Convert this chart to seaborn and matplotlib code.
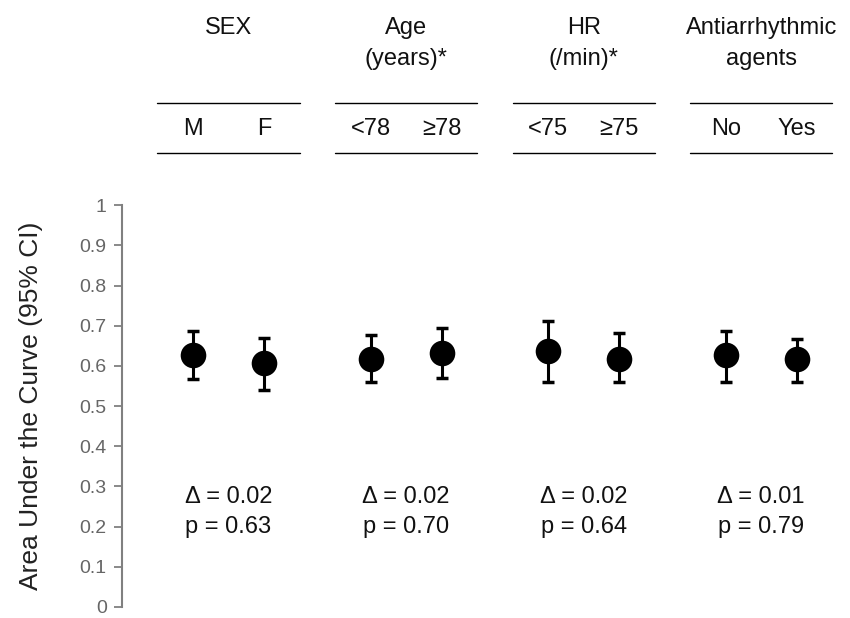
import numpy as np
import pandas as pd
import matplotlib
matplotlib.use('Agg')
import matplotlib.pyplot as plt
import seaborn as sns

# values
groups = [['SEX'], ['Age', '(years)*'], ['HR', '(/min)*'], ['Antiarrhythmic', 'agents']]
subgroups = ['M', 'F', '<78', '\u226578', '<75', '\u226575', 'No', 'Yes']
auc = [0.627, 0.608, 0.618, 0.633, 0.636, 0.618, 0.627, 0.616]
ci_low = [0.567, 0.540, 0.560, 0.570, 0.560, 0.560, 0.560, 0.560]
ci_high = [0.687, 0.670, 0.678, 0.695, 0.712, 0.682, 0.688, 0.668]
deltas = ['0.02', '0.02', '0.02', '0.01']
pvals = ['0.63', '0.70', '0.64', '0.79']

sns.set_style('white')
plt.rcParams['font.family'] = ['Liberation Sans', 'DejaVu Sans']

# two points per group, gap of 1.5 between groups
xpos = []
for g in range(len(groups)):
    xpos += [g * 2.5, g * 2.5 + 1]
df = pd.DataFrame({'x': xpos, 'auc': auc, 'lo': ci_low, 'hi': ci_high, 'sub': subgroups})

fig = plt.figure(figsize=(8.5, 6.18), dpi=100)
ax = fig.add_axes([0.1435, 0.018, 0.8565, 0.65])

ax.errorbar(df['x'], df['auc'], yerr=[df['auc'] - df['lo'], df['hi'] - df['auc']],
            fmt='none', ecolor='black', elinewidth=2.2, capsize=4.5, capthick=2.5, zorder=2)
sns.scatterplot(data=df, x='x', y='auc', s=340, color='black', edgecolor='black',
                linewidth=0, ax=ax, zorder=3, legend=False)

ax.set_xlim(-1, 9.25)
ax.set_ylim(0, 1)
ax.set_yticks(np.arange(0, 1.01, 0.1))
ax.set_yticklabels(['0', '0.1', '0.2', '0.3', '0.4', '0.5', '0.6', '0.7', '0.8', '0.9', '1'])
ax.set_xticks([])
ax.set_xlabel('')
ax.set_ylabel('Area Under the Curve (95% CI)', fontsize=19, color='#222222', labelpad=26)
ax.tick_params(axis='y', direction='out', length=6, width=1.3, color='#808080',
               labelcolor='#666666', labelsize=14, left=True, pad=5)
for s in ['top', 'right', 'bottom']:
    ax.spines[s].set_visible(False)
ax.spines['left'].set_color('#808080')
ax.spines['left'].set_linewidth(1.5)

fs = 17
for g, lines in enumerate(groups):
    cx = g * 2.5 + 0.5
    for i, line in enumerate(lines):
        ax.text(cx, 1.44 - i * 0.075, line, ha='center', va='center', fontsize=fs,
                color='#111111', clip_on=False)
    for yl in [1.254, 1.129]:
        ax.plot([cx - 1, cx + 1], [yl, yl], color='black', lw=1, clip_on=False)
    ax.text(cx, 0.274, '\u0394 = ' + deltas[g], ha='center', va='center', fontsize=fs,
            color='#111111')
    ax.text(cx, 0.199, 'p = ' + pvals[g], ha='center', va='center', fontsize=fs,
            color='#111111')

for x, lab in zip(xpos, subgroups):
    ax.text(x, 1.19, lab, ha='center', va='center', fontsize=fs, color='#111111',
            clip_on=False)

fig.savefig('out.png', dpi=100)
